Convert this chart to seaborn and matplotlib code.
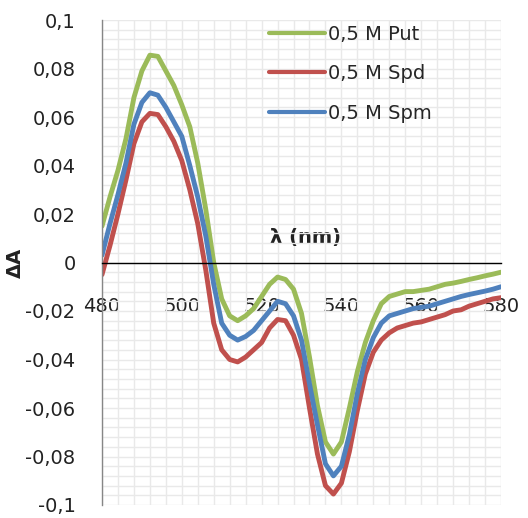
import numpy as np
import pandas as pd
import seaborn as sns
import matplotlib
matplotlib.use("Agg")
import matplotlib.pyplot as plt
from matplotlib.ticker import MultipleLocator, FuncFormatter
from matplotlib.lines import Line2D

wavelength = list(range(480, 582, 2))

put = [0.015, 0.027, 0.038, 0.051, 0.068, 0.079, 0.0855, 0.085, 0.079, 0.073,
       0.065, 0.056, 0.041, 0.022, 0.000, -0.015, -0.022, -0.024, -0.022, -0.019,
       -0.014, -0.009, -0.006, -0.007, -0.011, -0.021, -0.039, -0.059, -0.074, -0.079,
       -0.074, -0.060, -0.045, -0.033, -0.024, -0.017, -0.014, -0.013, -0.012, -0.012,
       -0.0115, -0.011, -0.010, -0.009, -0.0085, -0.0078, -0.007, -0.0063, -0.0055, -0.0048,
       -0.004]

spd = [-0.005, 0.007, 0.020, 0.034, 0.049, 0.058, 0.0615, 0.061, 0.056, 0.050,
       0.042, 0.030, 0.016, -0.003, -0.025, -0.036, -0.040, -0.041, -0.039, -0.036,
       -0.033, -0.027, -0.0235, -0.024, -0.030, -0.040, -0.060, -0.079, -0.092, -0.0955,
       -0.091, -0.078, -0.061, -0.046, -0.037, -0.032, -0.029, -0.027, -0.026, -0.025,
       -0.0245, -0.0235, -0.0225, -0.0215, -0.020, -0.0195, -0.018, -0.017, -0.016, -0.015,
       -0.0145]

spm = [0.003, 0.016, 0.028, 0.041, 0.057, 0.066, 0.070, 0.069, 0.064, 0.058,
       0.052, 0.040, 0.027, 0.011, -0.009, -0.025, -0.030, -0.032, -0.0305, -0.028,
       -0.024, -0.020, -0.016, -0.017, -0.022, -0.032, -0.050, -0.067, -0.083, -0.088,
       -0.084, -0.071, -0.054, -0.040, -0.031, -0.025, -0.022, -0.021, -0.020, -0.019,
       -0.0185, -0.018, -0.017, -0.016, -0.015, -0.014, -0.0132, -0.0125, -0.0118, -0.011,
       -0.010]

series_names = ["0,5 M Put", "0,5 M Spd", "0,5 M Spm"]
colors = ["#9BBB59", "#C0504D", "#4F81BD"]

df = pd.concat([
    pd.DataFrame({"wl": wavelength, "dA": vals, "series": name})
    for name, vals in zip(series_names, [put, spd, spm])
], ignore_index=True)

sns.set_style("white")
plt.rcParams["font.family"] = ["DejaVu Sans"]

fig = plt.figure(figsize=(5.28, 5.18), dpi=100)
ax = fig.add_axes([102/528, 1-505/518, 399/528, 485/518])

sns.lineplot(data=df, x="wl", y="dA", hue="series", palette=colors,
             hue_order=series_names, linewidth=3.5, ax=ax, legend=False)
for ln in ax.lines:
    ln.set_solid_joinstyle("round")
    ln.set_solid_capstyle("round")

ax.set_xlim(480, 580)
ax.set_ylim(-0.1, 0.1)
ax.xaxis.set_major_locator(MultipleLocator(20))
ax.xaxis.set_minor_locator(MultipleLocator(4))
ax.yaxis.set_major_locator(MultipleLocator(0.02))
ax.yaxis.set_minor_locator(MultipleLocator(0.004))
ax.grid(which="both", color="#E9E9E9", linewidth=1.0)
ax.set_axisbelow(True)

def fmt(v, pos):
    s = f"{v:.2f}".rstrip("0").rstrip(".")
    if s in ("-0", ""):
        s = "0"
    return s.replace(".", ",")

ax.yaxis.set_major_formatter(FuncFormatter(fmt))
ax.xaxis.set_major_formatter(FuncFormatter(lambda v, p: f"{int(round(v))}"))

for s in ["top", "right"]:
    ax.spines[s].set_visible(False)
ax.spines["bottom"].set_position(("data", 0))
ax.spines["bottom"].set_color("black")
ax.spines["bottom"].set_linewidth(1.0)
ax.spines["left"].set_color("#868686")
ax.spines["left"].set_linewidth(1.0)

ax.tick_params(axis="x", which="major", direction="out", length=6, width=1,
               color="#868686", labelsize=14, pad=19, labelcolor="#222222")
ax.tick_params(axis="y", which="major", direction="out", length=7, width=1,
               color="#868686", labelsize=14, pad=12, labelcolor="#222222")
ax.tick_params(which="minor", length=0)

ax.set_ylabel("ΔA", fontsize=14, fontweight="bold", color="#222222")
ax.yaxis.set_label_coords(-0.193, 0.5)
ax.set_xlabel("λ (nm)", fontsize=14, fontweight="bold", color="#222222")
ax.xaxis.set_label_coords(0.511, 0.572)

handles = [Line2D([0], [0], color=c, linewidth=3) for c in colors]
ax.legend(handles, series_names, loc="upper left", bbox_to_anchor=(0.4185, 0.99),
          frameon=False, fontsize=14, handlelength=2.9, handletextpad=0.15,
          labelspacing=1.05, borderpad=0, borderaxespad=0)

fig.savefig("out.png", dpi=100)
